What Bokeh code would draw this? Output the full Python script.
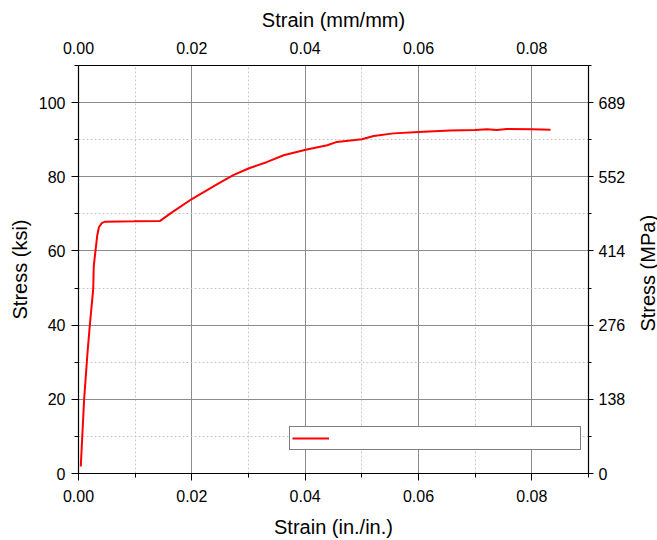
import math
from bokeh.plotting import figure
from bokeh.layouts import row
from bokeh.models import (Range1d, LinearAxis, Grid, SingleIntervalTicker, Legend, LegendItem,
                          ColumnDataSource, NumeralTickFormatter)
from bokeh.core.properties import value
from bokeh.embed import file_html
from bokeh.resources import INLINE

# Data
strain = [0.0004, 0.0010, 0.0016, 0.0020, 0.0026, 0.0027, 0.0030, 0.0033, 0.0036, 0.0041,
          0.0047, 0.0098, 0.0144, 0.0163, 0.0200, 0.0245, 0.0274, 0.0301, 0.0333, 0.0362,
          0.0401, 0.0439, 0.0456, 0.0500, 0.0521, 0.0556, 0.0600, 0.0656, 0.0700, 0.0721,
          0.0738, 0.0756, 0.0800, 0.0833]
stress_ksi = [1.9, 20.2, 32.8, 40.0, 49.8, 56.0, 60.1, 64.1, 66.4, 67.5,
              67.9, 68.0, 68.1, 70.2, 74.0, 78.0, 80.5, 82.3, 84.0, 85.8,
              87.3, 88.5, 89.4, 90.1, 91.0, 91.7, 92.1, 92.5, 92.6, 92.8,
              92.6, 92.9, 92.8, 92.7]
ksi_ticks = [0, 20, 40, 60, 80, 100]
mpa_labels = ["0", "138", "276", "414", "552", "689"]
right_title = "Stress (MPa)"

FONT = "Liberation Sans"
TICK_SIZE = "16px"
TITLE_SIZE = "20px"

p = figure(width=630, height=540, output_backend="svg", toolbar_location=None,
           x_range=Range1d(0, 0.09), y_range=Range1d(0, 110),
           x_axis_type=None, y_axis_type=None)
p.min_border_left = 78
p.min_border_right = 42
p.min_border_top = 65
p.min_border_bottom = 65
p.outline_line_color = "black"
p.outline_line_width = 1
p.background_fill_color = "white"
p.border_fill_color = "white"

xt = SingleIntervalTicker(interval=0.02, num_minor_ticks=2)
yt = SingleIntervalTicker(interval=20, num_minor_ticks=2)


def style(ax, tick_out=7, minor_out=4):
    ax.axis_line_color = "black"
    ax.axis_line_width = 1.2
    ax.major_tick_line_color = "black"
    ax.minor_tick_line_color = "black"
    ax.major_tick_out = tick_out
    ax.major_tick_in = 0
    ax.minor_tick_out = minor_out
    ax.minor_tick_in = 0
    ax.major_label_text_font = FONT
    ax.major_label_text_font_size = TICK_SIZE
    ax.major_label_text_color = "black"
    ax.axis_label_text_font = FONT
    ax.axis_label_text_font_size = TITLE_SIZE
    ax.axis_label_text_font_style = "normal"
    ax.axis_label_text_color = "black"


bottom = LinearAxis(ticker=xt, axis_label="Strain (in./in.)",
                    formatter=NumeralTickFormatter(format="0.00"))
style(bottom)
bottom.major_label_standoff = 9
bottom.axis_label_standoff = 11
p.add_layout(bottom, "below")

top = LinearAxis(ticker=xt, axis_label="Strain (mm/mm)",
                 formatter=NumeralTickFormatter(format="0.00"))
style(top, 0, 0)
top.major_label_standoff = 12
top.axis_label_standoff = 8
p.add_layout(top, "above")

left = LinearAxis(ticker=yt, axis_label="Stress (ksi)")
style(left)
left.major_label_standoff = 6
left.axis_label_standoff = 5
p.add_layout(left, "left")

right = LinearAxis(ticker=yt)
style(right, 5, 3)
right.major_label_overrides = {k: v for k, v in zip(ksi_ticks, mpa_labels)}
right.major_label_standoff = 5
p.add_layout(right, "right")

for dim, tk in ((0, xt), (1, yt)):
    g = Grid(dimension=dim, ticker=tk)
    g.grid_line_color = "#8c8c8c"
    g.grid_line_width = 1
    g.minor_grid_line_color = "#c8c8c8"
    g.minor_grid_line_dash = "2 2"
    g.minor_grid_line_width = 1
    p.add_layout(g, "center")

src = ColumnDataSource(data=dict(x=strain, y=stress_ksi))
r = p.line("x", "y", source=src, line_color="#ff0000", line_width=2)

legend = Legend(items=[LegendItem(label=" ", renderers=[r])], location=(211, 23))
legend.margin = 0
legend.padding = 2
legend.spacing = 0
legend.glyph_width = 37
legend.glyph_height = 18
legend.label_height = 18
legend.label_width = 249
legend.label_standoff = 0
legend.border_line_color = "black"
legend.border_line_width = 1
legend.background_fill_color = "white"
legend.background_fill_alpha = 1
legend.label_text_font = FONT
legend.label_text_font_size = "14px"
p.add_layout(legend, "center")

# narrow strip holding the right-hand axis title (reads bottom-to-top)
p2 = figure(width=27, height=540, output_backend="svg", toolbar_location=None,
            x_range=Range1d(0, 27), y_range=Range1d(0, 540),
            x_axis_type=None, y_axis_type=None, min_border=0)
p2.outline_line_color = None
p2.grid.visible = False
p2.background_fill_color = "white"
p2.border_fill_color = "white"
p2.text(x=[17], y=[265], text=[right_title], angle=math.pi / 2,
        text_align="center", text_baseline="middle",
        text_font=value(FONT), text_font_size=TITLE_SIZE, text_color="black")

layout = row(p, p2)
open("out.html", "w").write(file_html(layout, INLINE))
